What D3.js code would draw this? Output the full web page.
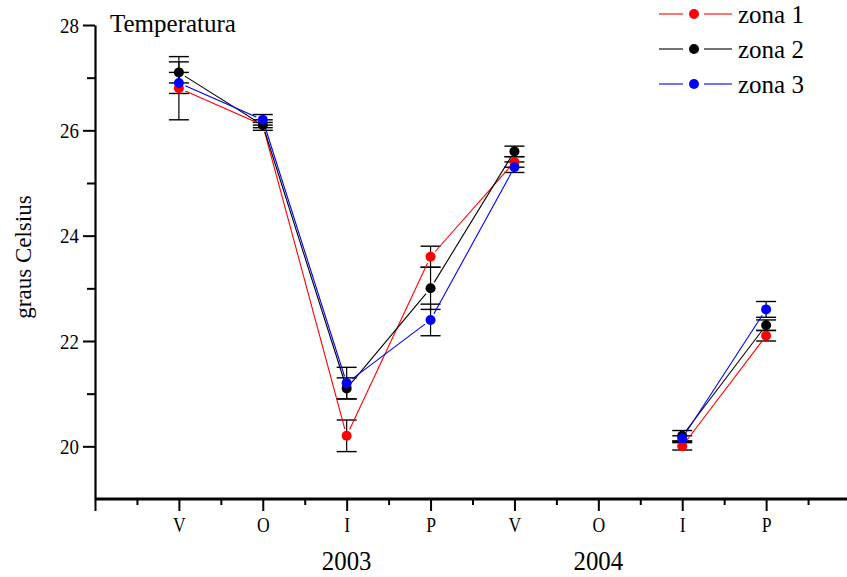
<!DOCTYPE html>
<meta charset="utf-8">
<style>

body {
  margin: 0;
  background: #fff;
}

</style>
<svg></svg>
<script src="https://cdn.jsdelivr.net/npm/d3@7"></script>
<script>

var width = 847,
    height = 577;

var serif = "'Liberation Serif', 'DejaVu Serif', Tinos, 'Times New Roman', Times, serif";

// seasons, index 1..8 on the x axis (index 0 is empty)
var seasons = ["", "V", "O", "I", "P", "V", "O", "I", "P"];
var years = [{label: "2003", at: 3}, {label: "2004", at: 6}];

var zona1 = [26.8, 26.1, 20.2, 23.6, 25.4, null, 20.0, 22.1],
    err1  = [0.6, 0.05, 0.3, 0.2, 0.1, null, 0.07, 0.1];
var zona2 = [27.1, 26.1, 21.1, 23.0, 25.6, null, 20.2, 22.3],
    err2  = [0.2, 0.1, 0.2, 0.4, 0.1, null, 0.1, 0.1];
var zona3 = [26.9, 26.2, 21.2, 22.4, 25.3, null, 20.15, 22.6],
    err3  = [0.2, 0.1, 0.3, 0.3, 0.1, null, 0.05, 0.15];

var series = [
  {name: "zona 1", color: "#ff0000", values: zona1, errors: err1},
  {name: "zona 2", color: "#000000", values: zona2, errors: err2},
  {name: "zona 3", color: "#0000ff", values: zona3, errors: err3}
];

var x = d3.scaleLinear()
    .domain([0, 9])
    .range([95, 850]);

var y = d3.scaleLinear()
    .domain([19, 28])
    .range([499, 25]);

var svg = d3.select("svg")
    .attr("width", width)
    .attr("height", height)
    .attr("font-family", serif);

// y axis: minor then major
svg.append("g")
    .attr("transform", "translate(" + x(0) + ",0)")
    .call(d3.axisLeft(y).tickValues([21, 23, 25, 27]).tickSize(8).tickFormat(""))
    .call(function(g) {
      g.select(".domain").remove();
      g.selectAll("line").attr("stroke-width", 2);
    });

svg.append("g")
    .attr("transform", "translate(" + x(0) + ",0)")
    .call(d3.axisLeft(y).tickValues([20, 22, 24, 26, 28]).tickSize(12).tickSizeOuter(0))
    .call(function(g) {
      g.attr("font-family", serif);
      g.select(".domain").attr("stroke-width", 2.2);
      g.selectAll("line").attr("stroke-width", 2);
      g.selectAll("text")
          .attr("x", null)
          .attr("dy", null)
          .attr("transform", "translate(-16,7) scale(0.9,1)")
          .style("font-family", serif)
          .style("font-size", "21px");
    });

// x axis
svg.append("g")
    .attr("transform", "translate(0," + y(19) + ")")
    .call(d3.axisBottom(x).tickValues(d3.range(0.5, 9, 1)).tickSize(6).tickFormat(""))
    .call(function(g) {
      g.select(".domain").remove();
      g.selectAll("line").attr("stroke-width", 2);
    });

svg.append("g")
    .attr("transform", "translate(0," + y(19) + ")")
    .call(d3.axisBottom(x).tickValues(d3.range(0, 9)).tickSize(12).tickSizeOuter(0)
        .tickFormat(function(d) { return seasons[d]; }))
    .call(function(g) {
      g.attr("font-family", serif);
      g.select(".domain").attr("d", "M" + x(0) + ",0H" + width).attr("stroke-width", 3);
      g.selectAll("line").attr("stroke-width", 2);
      g.selectAll("text")
          .attr("y", null)
          .attr("dy", null)
          .attr("transform", "translate(0,33) scale(0.8,1)")
          .style("font-family", serif)
          .style("font-size", "22px");
    });

svg.selectAll(".year")
    .data(years)
  .enter().append("text")
    .attr("class", "year")
    .attr("transform", function(d) { return "translate(" + x(d.at) + ",570) scale(0.92,1)"; })
    .attr("text-anchor", "middle")
    .style("font-family", serif)
    .style("font-size", "27px")
    .text(function(d) { return d.label; });

svg.append("text")
    .attr("transform", "translate(31,257) rotate(-90)")
    .attr("text-anchor", "middle")
    .style("font-family", serif)
    .style("font-size", "23px")
    .text("graus Celsius");

svg.append("text")
    .attr("x", 110)
    .attr("y", 32)
    .style("font-family", serif)
    .style("font-size", "25px")
    .text("Temperatura");

// error bars
var cap = 10;
series.forEach(function(s) {
  var pts = s.values.map(function(v, i) {
    return v == null ? null : {i: i + 1, v: v, e: s.errors[i]};
  }).filter(function(d) { return d; });

  var eb = svg.append("g").selectAll("g")
      .data(pts)
    .enter().append("g")
      .attr("stroke", "#000");

  eb.append("line")
      .attr("x1", function(d) { return x(d.i); })
      .attr("x2", function(d) { return x(d.i); })
      .attr("y1", function(d) { return y(d.v + d.e); })
      .attr("y2", function(d) { return y(d.v - d.e); })
      .attr("stroke-width", 1.2);

  [1, -1].forEach(function(sign) {
    eb.append("line")
        .attr("x1", function(d) { return x(d.i) - cap; })
        .attr("x2", function(d) { return x(d.i) + cap; })
        .attr("y1", function(d) { return y(d.v + sign * d.e); })
        .attr("y2", function(d) { return y(d.v + sign * d.e); })
        .attr("stroke-width", 1.4);
  });
});

// lines with a small gap around the symbols
var gap = 7;
series.forEach(function(s) {
  var segs = [];
  for (var i = 0; i < s.values.length - 1; i++) {
    if (s.values[i] == null || s.values[i + 1] == null) continue;
    var x0 = x(i + 1), y0 = y(s.values[i]),
        x1 = x(i + 2), y1 = y(s.values[i + 1]);
    var dx = x1 - x0, dy = y1 - y0, len = Math.sqrt(dx * dx + dy * dy);
    segs.push([x0 + dx / len * gap, y0 + dy / len * gap, x1 - dx / len * gap, y1 - dy / len * gap]);
  }
  svg.append("g").selectAll("line")
      .data(segs)
    .enter().append("line")
      .attr("x1", function(d) { return d[0]; })
      .attr("y1", function(d) { return d[1]; })
      .attr("x2", function(d) { return d[2]; })
      .attr("y2", function(d) { return d[3]; })
      .attr("stroke", s.color)
      .attr("stroke-width", 1.1);
});

// symbols
series.forEach(function(s) {
  svg.append("g").selectAll("circle")
      .data(s.values.map(function(v, i) { return {i: i + 1, v: v}; })
          .filter(function(d) { return d.v != null; }))
    .enter().append("circle")
      .attr("cx", function(d) { return x(d.i); })
      .attr("cy", function(d) { return y(d.v); })
      .attr("r", 5)
      .attr("fill", s.color);
});

// legend
var legend = svg.selectAll(".legend")
    .data(series)
  .enter().append("g")
    .attr("class", "legend")
    .attr("transform", function(d, i) { return "translate(694," + (14 + i * 35) + ")"; });

legend.append("line")
    .attr("x1", -35).attr("x2", -11)
    .attr("stroke", function(d) { return d.color; })
    .attr("stroke-width", 1.1);

legend.append("line")
    .attr("x1", 10).attr("x2", 38)
    .attr("stroke", function(d) { return d.color; })
    .attr("stroke-width", 1.1);

legend.append("circle")
    .attr("r", 5)
    .attr("fill", function(d) { return d.color; });

legend.append("text")
    .attr("x", 44)
    .attr("y", 9)
    .style("font-family", serif)
    .style("font-size", "25px")
    .text(function(d) { return d.name; });

</script>
